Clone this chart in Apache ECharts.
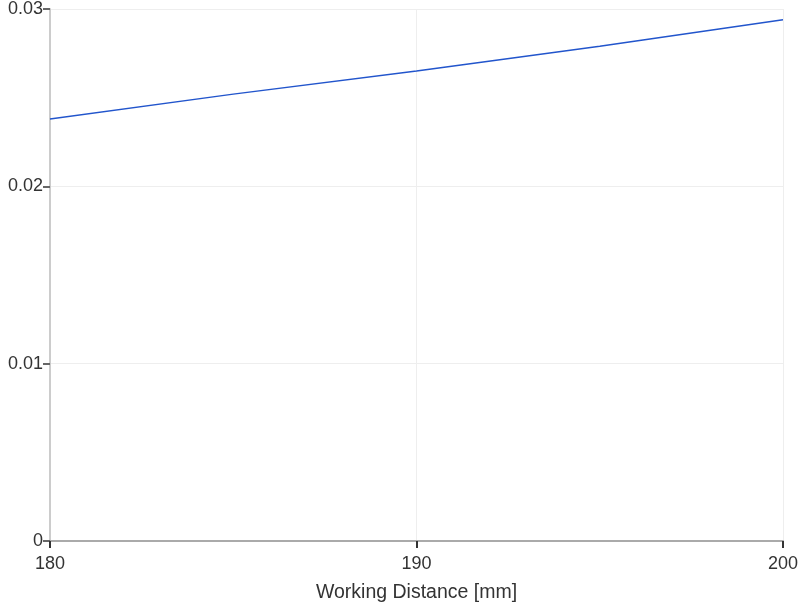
<!DOCTYPE html>
<html>
<head>
<meta charset="utf-8">
<script src="https://cdn.jsdelivr.net/npm/echarts@6/dist/echarts.min.js"></script>
<style>html,body{margin:0;padding:0;background:#fff}#c{width:800px;height:602px}</style>
</head>
<body>
<div id="c"></div>
<script>
const distances = [180, 185, 190, 195, 200];
const values = [0.0238, 0.0252, 0.0265, 0.0279, 0.0294];
const xTitle = 'Working Distance [mm]';
const FONT = '"Liberation Sans", Arial, sans-serif';

const chart = echarts.init(document.getElementById('c'), null, {renderer: 'canvas'});
chart.setOption({
  animation: false,
  grid: {left: 50, right: 17, top: 9, bottom: 61, containLabel: false, outerBoundsMode: 'none'},
  xAxis: {
    type: 'value', min: 180, max: 200, interval: 10,
    name: xTitle, nameLocation: 'middle', nameGap: 42,
    nameTextStyle: {color: '#333', fontSize: 19.5, fontFamily: FONT},
    axisLine: {lineStyle: {color: '#aaa', width: 2}},
    axisTick: {show: true, length: 7, lineStyle: {color: '#333', width: 2}},
    axisLabel: {color: '#333', fontSize: 18, fontFamily: FONT, margin: 14},
    splitLine: {show: true, lineStyle: {color: '#eee'}}
  },
  yAxis: {
    type: 'value', min: 0, max: 0.03, interval: 0.01,
    axisLine: {show: true, lineStyle: {color: '#ccc', width: 2}},
    axisTick: {show: true, length: 7, lineStyle: {color: '#666', width: 2}},
    axisLabel: {color: '#333', fontSize: 18, fontFamily: FONT, margin: 7},
    splitLine: {show: true, lineStyle: {color: '#eee'}}
  },
  series: [{
    type: 'line',
    data: distances.map((d, i) => [d, values[i]]),
    showSymbol: false,
    lineStyle: {color: '#2255cc', width: 1.5}
  }]
});
</script>
</body>
</html>
